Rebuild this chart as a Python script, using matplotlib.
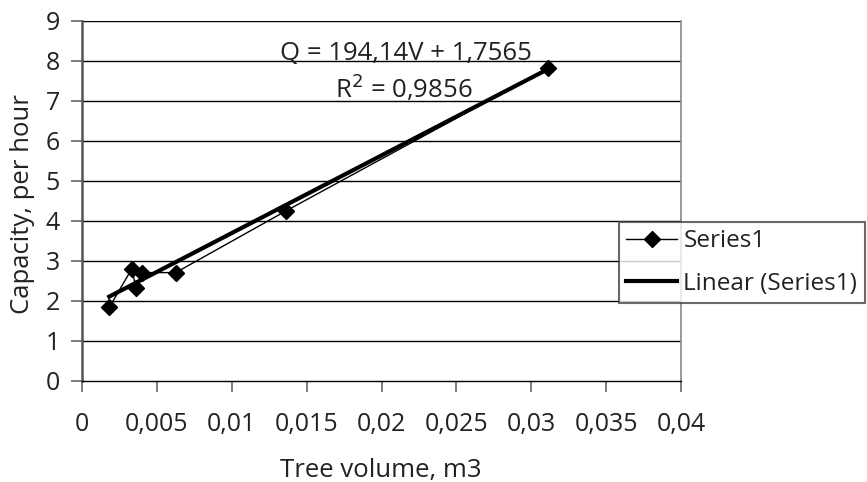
import matplotlib
matplotlib.use("Agg")
import matplotlib.pyplot as plt
import numpy as np

plt.rcParams['font.family'] = ['Open Sans', 'DejaVu Sans']

# Data
volume = [0.00182, 0.00332, 0.00361, 0.00399, 0.00626, 0.01361, 0.03114]
capacity = [1.84, 2.80, 2.33, 2.71, 2.71, 4.25, 7.82]
slope = 194.14
intercept = 1.7565
x_ticks = [0, 0.005, 0.01, 0.015, 0.02, 0.025, 0.03, 0.035, 0.04]
x_tick_labels = ['0', '0,005', '0,01', '0,015', '0,02', '0,025', '0,03', '0,035', '0,04']
y_ticks = [0, 1, 2, 3, 4, 5, 6, 7, 8, 9]
y_tick_labels = [str(v) for v in y_ticks]

fig = plt.figure(figsize=(8.67, 4.82), dpi=100)
ax = fig.add_axes([82/867, 1-381/482, (681-82)/867, (381-21)/482])

ax.set_xlim(0, 0.04)
ax.set_ylim(0, 9)

for y in y_ticks[1:]:
    ax.axhline(y, color='black', lw=1.0, zorder=1)

ax.plot(volume, capacity, color='black', lw=1.0, marker='D', ms=8,
        mfc='black', mec='black', zorder=3, label='Series1')

vx = np.array([min(volume), max(volume)])
ax.plot(vx, slope*vx + intercept, color='black', lw=3.0, zorder=2,
        label='Linear (Series1)')

ax.set_xticks(x_ticks)
ax.set_xticklabels(x_tick_labels)
ax.set_yticks(y_ticks)
ax.set_yticklabels(y_tick_labels)
ax.tick_params(axis='both', direction='out', length=8, width=1.2, color='#666666',
               labelsize=18, labelcolor='#222222')
ax.tick_params(axis='x', pad=14)
ax.tick_params(axis='y', pad=8)

ax.spines['left'].set_color('#555555')
ax.spines['left'].set_linewidth(1.8)
ax.spines['bottom'].set_color('black')
ax.spines['bottom'].set_linewidth(1.0)
ax.spines['right'].set_color('#888888')
ax.spines['right'].set_linewidth(1.2)
ax.spines['top'].set_visible(False)

fig.text(23/867, 1-204/482, 'Capacity, per hour', rotation=90, fontsize=18.5,
         color='#222222', ha='center', va='center')
fig.text(381/867, 1-477/482, 'Tree volume, m3', fontsize=18.5,
         color='#222222', ha='center', va='baseline')

ax.text(0.02164, 8.03, 'Q = 194,14V + 1,7565', fontsize=18.5, ha='center',
        va='baseline', color='#222222', zorder=4)
ax.text(0.0215, 7.08, r'R$^{2}$ = 0,9856', fontsize=18.5, ha='center',
        va='baseline', color='#222222', zorder=4)

leg = fig.legend(loc='upper left', bbox_to_anchor=(619/867, 1-222/482),
                 frameon=True, fancybox=False, fontsize=17.5, handlelength=2.1,
                 handletextpad=0.25, borderpad=0.3, labelspacing=0.75,
                 borderaxespad=0)
leg.get_frame().set_edgecolor('#444444')
leg.get_frame().set_linewidth(1.5)
for t in leg.get_texts():
    t.set_color('#222222')

fig.savefig('out.png', dpi=100)
